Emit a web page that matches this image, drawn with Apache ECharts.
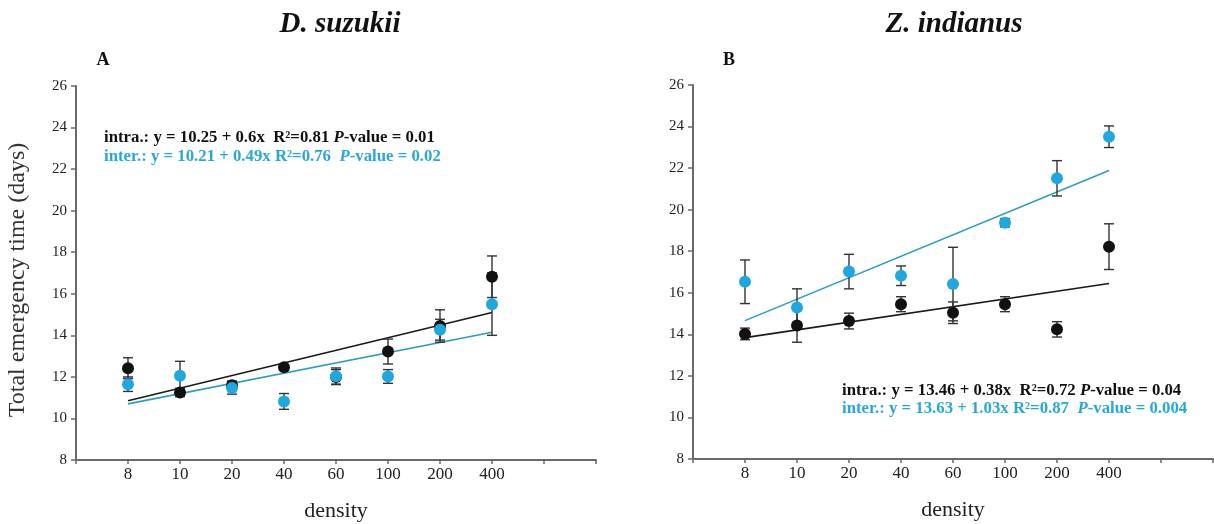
<!DOCTYPE html>
<html>
<head>
<meta charset="utf-8">
<script src="https://cdn.jsdelivr.net/npm/echarts@6/dist/echarts.min.js"></script>
<style>html,body{margin:0;padding:0;background:#fff}#c{width:1214px;height:524px}</style>
</head>
<body>
<div id="c"></div>
<script>
// ---- data ----
const densities = ['8', '10', '20', '40', '60', '100', '200', '400'];
const yTicks = [8, 10, 12, 14, 16, 18, 20, 22, 24, 26];

// Panel A: D. suzukii
const aIntraMean = [12.42, 11.25, 11.6, 12.46, 12.0, 13.22, 14.45, 16.82];
const aIntraErr  = [0.5, 0.2, 0.2, 0.12, 0.35, 0.6, 0.78, 1.0];
const aInterMean = [11.65, 12.05, 11.47, 10.82, 12.03, 12.02, 14.27, 15.5];
const aInterErr  = [0.35, 0.7, 0.3, 0.38, 0.4, 0.33, 0.5, 1.5];
const aIntraTrend = [10.85, 15.1];   // at density 8 and 400
const aInterTrend = [10.7, 14.15];

// Panel B: Z. indianus
const bIntraMean = [14.02, 14.42, 14.64, 15.45, 15.04, 15.45, 14.24, 18.22];
const bIntraErr  = [0.28, 0.8, 0.38, 0.36, 0.52, 0.36, 0.37, 1.1];
const bInterMean = [16.53, 15.29, 17.02, 16.82, 16.42, 19.37, 21.51, 23.51];
const bInterErr  = [1.05, 0.9, 0.83, 0.47, 1.77, 0.2, 0.85, 0.52];
const bIntraTrend = [13.84, 16.45];
const bInterTrend = [14.66, 21.88];

const panelTitles = ['D. suzukii', 'Z. indianus'];
const panelLetters = ['A', 'B'];
const annA = ['intra.: y = 10.25 + 0.6x  R²=0.81 ', '-value = 0.01', 'inter.: y = 10.21 + 0.49x R²=0.76  ', '-value = 0.02'];
const annB = ['intra.: y = 13.46 + 0.38x  R²=0.72 ', '-value = 0.04', 'inter.: y = 13.63 + 1.03x R²=0.87  ', '-value = 0.004'];

// ---- styling ----
const SERIF = '"Liberation Serif", "DejaVu Serif", serif';
const BLACK = '#111111';
const BLUE = '#1fa7e0';
const BLUE_LINE = '#2a9ec4';
const BLUE_TEXT = '#27a8dc';
const AXIS = '#6a6a6a';

// category axis: a blank slot at each end like the original
const xCats = [''].concat(densities, ['', '']);

function errRender(params, api) {
  const lo = api.coord([api.value(0), api.value(1)]);
  const hi = api.coord([api.value(0), api.value(2)]);
  const x = lo[0], w = 5;
  const st = { stroke: '#333333', lineWidth: 1.4 };
  return { type: 'group', children: [
    { type: 'line', shape: { x1: x, y1: hi[1], x2: x, y2: lo[1] }, style: st },
    { type: 'line', shape: { x1: x - w, y1: hi[1], x2: x + w, y2: hi[1] }, style: st },
    { type: 'line', shape: { x1: x - w, y1: lo[1], x2: x + w, y2: lo[1] }, style: st }
  ]};
}
const errData = (m, e) => m.map((v, i) => [i + 1, +(v - e[i]).toFixed(3), +(v + e[i]).toFixed(3)]);
const ptData = m => m.map((v, i) => [i + 1, v]);
const trendData = t => [[1, t[0]], [densities.length, t[1]]];

function xAxisFor(idx) {
  return {
    gridIndex: idx, type: 'category', data: xCats, boundaryGap: false,
    name: 'density', nameLocation: 'middle', nameGap: 40,
    nameTextStyle: { fontFamily: SERIF, fontSize: 22, color: '#222' },
    axisLine: { lineStyle: { color: AXIS, width: 2 } },
    axisTick: { show: true, interval: 0, length: 4, lineStyle: { color: AXIS, width: 1.5 } },
    axisLabel: { interval: 0, fontFamily: SERIF, fontSize: 17, color: '#222', margin: 6 },
    splitLine: { show: false }
  };
}
function yAxisFor(idx) {
  const ax = {
    gridIndex: idx, type: 'value', min: yTicks[0], max: yTicks[yTicks.length - 1], interval: 2,
    axisLine: { show: true, lineStyle: { color: AXIS, width: 2 } },
    axisTick: { show: true, length: 5, lineStyle: { color: AXIS, width: 1.5 } },
    axisLabel: { fontFamily: SERIF, fontSize: 15, color: '#222', margin: 9 },
    splitLine: { show: false }
  };
  if (idx === 0) {
    ax.name = 'Total emergency time (days)';
    ax.nameLocation = 'middle';
    ax.nameGap = 46;
    ax.nameTextStyle = { fontFamily: SERIF, fontSize: 24, color: '#333', padding: [0, 14, 0, 0] };
  }
  return ax;
}

function panelSeries(idx, intraM, intraE, interM, interE, intraT, interT) {
  const base = { xAxisIndex: idx, yAxisIndex: idx, animation: false };
  return [
    Object.assign({ type: 'line', data: trendData(intraT), symbol: 'none', z: 2,
      lineStyle: { color: '#1a1a1a', width: 1.6 } }, base),
    Object.assign({ type: 'line', data: trendData(interT), symbol: 'none', z: 2,
      lineStyle: { color: BLUE_LINE, width: 1.6 } }, base),
    Object.assign({ type: 'custom', renderItem: errRender, data: errData(intraM, intraE), z: 3,
      encode: { x: 0, y: [1, 2] } }, base),
    Object.assign({ type: 'custom', renderItem: errRender, data: errData(interM, interE), z: 3,
      encode: { x: 0, y: [1, 2] } }, base),
    Object.assign({ type: 'scatter', data: ptData(intraM), symbolSize: 12, z: 4,
      itemStyle: { color: BLACK, opacity: 1 } }, base),
    Object.assign({ type: 'scatter', data: ptData(interM), symbolSize: 12, z: 5,
      itemStyle: { color: BLUE, opacity: 1 } }, base)
  ];
}

function annText(x, y, parts, color) {
  return { type: 'text', x: x, y: y, z: 10,
    style: {
      text: '{b|' + parts[0] + '}{i|P}{b|' + parts[1] + '}',
      textVerticalAlign: 'middle', verticalAlign: 'middle',
      rich: {
        b: { fontFamily: SERIF, fontWeight: 'bold', fontSize: 16.8, fill: color },
        i: { fontFamily: SERIF, fontWeight: 'bold', fontStyle: 'italic', fontSize: 16.8, fill: color }
      }
    } };
}
function plainText(x, y, text, font, align) {
  return { type: 'text', x: x, y: y, z: 10,
    style: { text: text, font: font, fill: '#111', textAlign: align, align: align,
      textVerticalAlign: 'middle', verticalAlign: 'middle' } };
}

const chart = echarts.init(document.getElementById('c'), null, { renderer: 'canvas' });
chart.setOption({
  backgroundColor: '#ffffff',
  animation: false,
  grid: [
    { left: 76, top: 86, width: 520, height: 374, containLabel: false, outerBoundsMode: 'none' },
    { left: 693, top: 85, width: 520, height: 374, containLabel: false, outerBoundsMode: 'none' }
  ],
  xAxis: [xAxisFor(0), xAxisFor(1)],
  yAxis: [yAxisFor(0), yAxisFor(1)],
  series: [].concat(
    panelSeries(0, aIntraMean, aIntraErr, aInterMean, aInterErr, aIntraTrend, aInterTrend),
    panelSeries(1, bIntraMean, bIntraErr, bInterMean, bInterErr, bIntraTrend, bInterTrend)
  ),
  graphic: [
    plainText(340, 25, panelTitles[0], 'italic bold 29px ' + SERIF, 'center'),
    plainText(954, 25, panelTitles[1], 'italic bold 29px ' + SERIF, 'center'),
    plainText(103, 60, panelLetters[0], 'bold 18px ' + SERIF, 'center'),
    plainText(729, 60, panelLetters[1], 'bold 18px ' + SERIF, 'center'),
    annText(104, 138, [annA[0], annA[1]], '#111'),
    annText(104, 157, [annA[2], annA[3]], BLUE_TEXT),
    annText(842, 391, [annB[0], annB[1]], '#111'),
    annText(842, 409, [annB[2], annB[3]], BLUE_TEXT)
  ]
});
</script>
</body>
</html>
